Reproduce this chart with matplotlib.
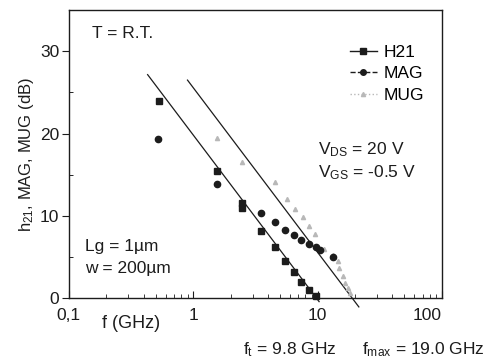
import numpy as np
import matplotlib
matplotlib.use("Agg")
import matplotlib.pyplot as plt
from matplotlib.lines import Line2D

plt.rcParams['font.family'] = ['Liberation Sans', 'DejaVu Sans']
plt.rcParams['mathtext.fontset'] = 'custom'
plt.rcParams['mathtext.rm'] = 'Liberation Sans'
plt.rcParams['mathtext.it'] = 'Liberation Sans:italic'

h21_f = [0.53, 1.54, 2.49, 2.49, 3.5, 4.56, 5.48, 6.46, 7.41, 8.52, 9.64]
h21_db = [24.0, 15.4, 11.6, 11.0, 8.2, 6.2, 4.5, 3.2, 2.0, 1.0, 0.3]

mag_f = [0.52, 1.54, 3.5, 4.56, 5.48, 6.46, 7.41, 8.52, 9.64, 10.4, 13.3]
mag_db = [19.3, 13.9, 10.4, 9.2, 8.3, 7.7, 7.1, 6.6, 6.2, 5.8, 5.0]

mug_f = [1.54, 2.49, 4.56, 5.65, 6.6, 7.6, 8.5, 9.6, 11.2, 13.4, 14.5, 15.0, 16.1, 16.7, 17.7, 18.4]
mug_db = [19.5, 16.5, 14.1, 12.0, 10.8, 9.8, 8.8, 7.8, 6.0, 5.2, 4.5, 3.6, 2.7, 1.8, 1.2, 0.6]

ft = 9.8
fmax = 19.0

ink = '#1c1c1c'
light = '#b8b8b8'
fs = 12.5

fig = plt.figure(figsize=(4.85, 3.6), dpi=100)
ax = fig.add_axes([0.142, 0.172, 0.769, 0.8])

# -20 dB/decade extrapolation lines
f1 = np.logspace(np.log10(0.43), np.log10(10.3), 50)
ax.plot(f1, 20 * np.log10(ft / f1), color=ink, lw=0.9, clip_on=False)
f2 = np.logspace(np.log10(0.9), np.log10(21.5), 50)
ax.plot(f2, 20 * np.log10(fmax / f2), color=ink, lw=0.9, clip_on=False)

ax.plot(mug_f, mug_db, ls='none', marker='^', ms=3, color=light, clip_on=False)
ax.plot(mag_f, mag_db, ls='none', marker='o', ms=4.5, color=ink, clip_on=False)
ax.plot(h21_f, h21_db, ls='none', marker='s', ms=4.5, color=ink, clip_on=False)

ax.set_xscale('log')
ax.set_xlim(0.1, 100)
ax.set_ylim(0, 35)
ax.set_xticks([0.1, 1, 10, 100])
ax.set_xticklabels(['0,1', '1', '10', '100'])
ax.set_yticks([0, 10, 20, 30])
ax.set_yticks([5, 15, 25], minor=True)
ax.tick_params(axis='x', which='both', direction='in', labelsize=fs, colors=ink, pad=7)
ax.tick_params(axis='x', which='major', length=5)
ax.tick_params(axis='x', which='minor', length=3)
ax.tick_params(axis='y', which='major', direction='out', length=5, labelsize=fs, colors=ink, pad=2)
ax.tick_params(axis='y', which='minor', direction='in', length=3)
ax.get_xticklabels()[-1].set_ha('right')
for s in ax.spines.values():
    s.set_color(ink)
    s.set_linewidth(1.0)

ax.set_ylabel('h$_{21}$, MAG, MUG (dB)', fontsize=12, color=ink, labelpad=3)
fig.text(131 / 485, 1 - 324 / 360, 'f (GHz)', fontsize=13, color=ink, ha='center', va='center')

ax.text(0.062, 0.92, 'T = R.T.', transform=ax.transAxes, fontsize=fs, color=ink, va='center')
ax.text(0.668, 0.514, 'V$_{\\rm DS}$ = 20 V', transform=ax.transAxes, fontsize=fs, color=ink, va='center')
ax.text(0.668, 0.437, 'V$_{\\rm GS}$ = -0.5 V', transform=ax.transAxes, fontsize=fs, color=ink, va='center')
ax.text(0.043, 0.18, 'Lg = 1µm', transform=ax.transAxes, fontsize=fs, color=ink, va='center')
ax.text(0.043, 0.104, 'w = 200µm', transform=ax.transAxes, fontsize=fs, color=ink, va='center')

fig.text(290 / 485, 1 - 350 / 360, 'f$_{\\rm t}$ = 9.8 GHz', fontsize=fs, color=ink, ha='center', va='center')
fig.text(423 / 485, 1 - 350 / 360, 'f$_{\\rm max}$ = 19.0 GHz', fontsize=fs, color=ink, ha='center', va='center')

handles = [
    Line2D([0], [0], color=ink, lw=1.0, ls='-', marker='s', ms=4),
    Line2D([0], [0], color=ink, lw=1.0, ls='--', marker='o', ms=4),
    Line2D([0], [0], color=light, lw=1.0, ls=':', marker='^', ms=3),
]
ax.legend(handles, ['H21', 'MAG', 'MUG'], loc='upper left', bbox_to_anchor=(0.73, 0.91),
          frameon=False, fontsize=fs, borderpad=0, handlelength=1.55,
          handletextpad=0.4, labelspacing=0.36)

fig.savefig('out.png', dpi=100, facecolor='white')
